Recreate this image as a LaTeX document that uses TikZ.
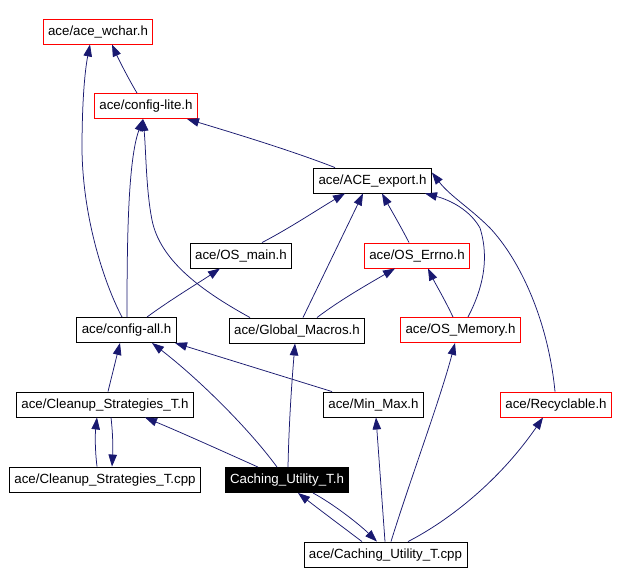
\documentclass[tikz,border=0pt]{standalone}
\usepackage{fontspec}
\setmainfont{Liberation Sans}
\usetikzlibrary{arrows.meta}
\definecolor{edgeblue}{RGB}{25,25,112}
\begin{document}
\begin{tikzpicture}[x=1pt,y=-1pt,
  box/.style={draw=black,line width=0.9pt,fill=white,inner xsep=5pt,inner ysep=0pt,minimum height=25pt,font=\fontsize{13.3}{15}\selectfont,text height=10pt,text depth=3pt},
  redbox/.style={box,draw=red},
  curbox/.style={box,fill=black,text=white},
  e/.style={draw=edgeblue,line width=0.75pt,-{Triangle[length=12pt,width=8.5pt]}}]
\useasboundingbox[fill=white] (0,0) rectangle (620,584);
% nodes
\node[redbox] (wchar) at (98,31.5) {ace/ace\_wchar.h};
\node[redbox] (cl) at (146,106) {ace/config-lite.h};
\node[box] (ace) at (372.5,180.5) {ace/ACE\_export.h};
\node[box] (osm) at (241,255.5) {ace/OS\_main.h};
\node[redbox] (err) at (417,255.5) {ace/OS\_Errno.h};
\node[box] (ca) at (126.5,330) {ace/config-all.h};
\node[box] (gm) at (297,330.5) {ace/Global\_Macros.h};
\node[redbox] (mem) at (460.5,330) {ace/OS\_Memory.h};
\node[box] (chh) at (105,404.5) {ace/Cleanup\_Strategies\_T.h};
\node[box] (mm) at (373.5,404.5) {ace/Min\_Max.h};
\node[redbox] (rec) at (556,404.5) {ace/Recyclable.h};
\node[box] (chc) at (105,479.5) {ace/Cleanup\_Strategies\_T.cpp};
\node[curbox] (cuh) at (287,480) {Caching\_Utility\_T.h};
\node[box] (cuc) at (385.5,554.5) {ace/Caching\_Utility\_T.cpp};
% edges
\draw[e] ([xshift=-9pt]cl.north) .. controls (128,78) and (118,58) .. ([xshift=14pt]wchar.south);
\draw[e] ([xshift=-4.5pt]ca.north) .. controls (105,285) and (83,220) .. (82,150) .. controls (82,100) and (85,70) .. ([xshift=-8pt]wchar.south);
\draw[e] ([xshift=0.5pt]ca.north) .. controls (127,240) and (128,160) .. ([xshift=-3pt]cl.south);
\draw[e] ([xshift=-47pt]gm.north) .. controls (200,290) and (160,260) .. (152,220) .. controls (146,190) and (146,150) .. ([xshift=-3pt]cl.south);
\draw[e] ([xshift=20.5pt]ca.north) .. controls (170,300) and (200,282) .. ([xshift=-21pt]osm.south);
\draw[e] ([xshift=21pt]osm.north) .. controls (290,228) and (320,208) .. ([xshift=-27.5pt]ace.south);
\draw[e] ([xshift=6pt]gm.north) -- ([xshift=-9.5pt]ace.south);
\draw[e] ([xshift=-8pt]err.north) .. controls (400,225) and (390,208) .. ([xshift=9.5pt]ace.south);
\draw[e] ([xshift=7.5pt]mem.north) .. controls (482,290) and (490,260) .. (480,228) .. controls (470,210) and (450,200) .. ([xshift=52.5pt]ace.south);
\draw[e] ([xshift=-1pt]rec.north) .. controls (548,320) and (520,260) .. (490,228) .. controls (470,208) and (450,196) .. ([yshift=8pt]ace.east);
\draw[e] ([xshift=-37.5pt]ace.north) .. controls (290,150) and (230,132) .. ([xshift=41pt]cl.south);
\draw[e] ([xshift=20pt]gm.north) .. controls (340,300) and (370,283) .. ([xshift=-22pt]err.south);
\draw[e] ([xshift=-7.5pt]mem.north) .. controls (445,300) and (435,283) .. ([xshift=11pt]err.south);
\draw[e] ([xshift=3pt]chh.north) -- ([xshift=-6.5pt]ca.south);
\draw[e] ([xshift=-10pt]cuh.north) .. controls (250,430) and (200,380) .. ([xshift=25.5pt]ca.south);
\draw[e] ([xshift=-41.5pt]mm.north) -- ([xshift=48.5pt]ca.south);
\draw[e] ([xshift=-29pt]cuh.north) .. controls (220,450) and (180,432) .. ([xshift=40pt]chh.south);
\draw[e] ([xshift=-8pt]chc.north) .. controls (95,450) and (95,435) .. ([xshift=-8pt]chh.south);
\draw[e] ([xshift=6pt]chh.south) .. controls (113,435) and (113,450) .. ([xshift=7pt]chc.north);
\draw[e] ([xshift=1pt]cuh.north) .. controls (289,420) and (292,380) .. ([xshift=-2pt]gm.south);
\draw[e] ([xshift=-23.5pt]cuc.north) .. controls (340,525) and (320,510) .. ([xshift=11pt]cuh.south);
\draw[e] ([xshift=26pt]cuh.south) .. controls (335,505) and (360,525) .. ([xshift=-8.5pt]cuc.north);
\draw[e] ([xshift=-0.5pt]cuc.north) -- ([xshift=2.5pt]mm.south);
\draw[e] ([xshift=5.5pt]cuc.north) .. controls (410,480) and (440,400) .. ([xshift=-5.5pt]mem.south);
\draw[e] ([xshift=22.5pt]cuc.north) .. controls (450,520) and (500,480) .. ([xshift=-13pt]rec.south);
\end{tikzpicture}
\end{document}
